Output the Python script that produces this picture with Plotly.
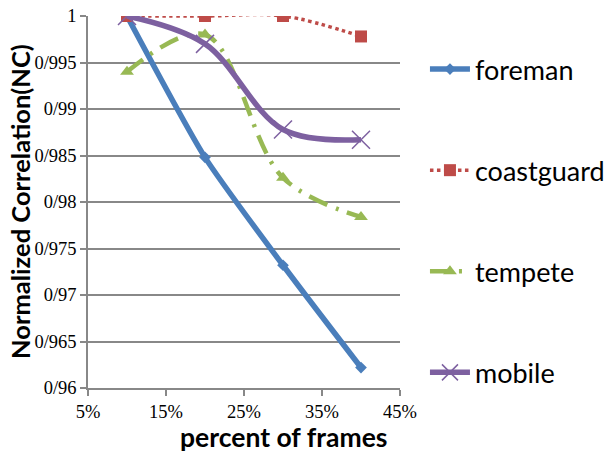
import plotly.graph_objects as go

x_pct = [10, 20, 30, 40]
foreman = [1.0, 0.9848, 0.9732, 0.9622]
coastguard = [1.0, 1.0, 1.0, 0.9978]
tempete = [0.994, 0.998, 0.9826, 0.9784]
mobile = [1.0, 0.997, 0.9878, 0.9867]

y_tickvals = [0.96, 0.965, 0.97, 0.975, 0.98, 0.985, 0.99, 0.995, 1.0]
y_ticktext = ["0/96", "0/965", "0/97", "0/975", "0/98", "0/985", "0/99", "0/995", "1"]
x_tickvals = [5, 15, 25, 35, 45]
x_ticktext = ["5%", "15%", "25%", "35%", "45%"]

sans = "Lato, Open Sans, sans-serif"
serif = "Liberation Serif, Times New Roman, serif"

fig = go.Figure()
fig.add_trace(go.Scatter(x=x_pct, y=foreman, name="foreman", legendgroup="a",
                         mode="lines+markers", line=dict(color="#4a7ebb", width=5.5, shape="spline", smoothing=0.6),
                         marker=dict(symbol="diamond", size=9, color="#4a7ebb")))
fig.add_trace(go.Scatter(x=x_pct, y=coastguard, name="coastguard", legendgroup="b",
                         mode="lines+markers", line=dict(color="#be4b48", width=3.5, dash="dot", shape="spline"),
                         marker=dict(symbol="square", size=12, color="#be4b48")))
fig.add_trace(go.Scatter(x=x_pct, y=tempete, name="tempete", legendgroup="c",
                         mode="lines+markers", line=dict(color="#98b954", width=4.5, dash="20px,9px,3px,9px", shape="spline"),
                         marker=dict(symbol="triangle-up", size=12, color="#98b954")))
fig.add_trace(go.Scatter(x=x_pct, y=mobile, name="mobile", legendgroup="d",
                         mode="lines+markers", line=dict(color="#7d60a0", width=5.5, shape="spline"),
                         marker=dict(symbol="x-thin-open", size=18, line=dict(color="#7d60a0", width=1.5))))

fig.update_layout(
    width=606, height=453,
    margin=dict(l=88, r=206, t=16, b=65, autoexpand=False),
    paper_bgcolor="white", plot_bgcolor="white",
    showlegend=True,
    legend=dict(x=1.080, xanchor="left", y=0.922, yanchor="top", yref="paper",
                font=dict(family=sans, size=27, color="black"),
                tracegroupgap=63, itemwidth=40, bgcolor="rgba(0,0,0,0)"),
    xaxis=dict(range=[5, 45], tickvals=x_tickvals, ticktext=x_ticktext, automargin=False,
               showgrid=False, showline=True, linecolor="#888888", linewidth=1.5,
               ticks="outside", ticklen=6, tickcolor="#888888", tickwidth=1.5,
               tickfont=dict(family=serif, size=18.5, color="black"),
               zeroline=False),
    yaxis=dict(range=[0.96, 1.0], tickvals=y_tickvals, ticktext=y_ticktext, automargin=False,
               showgrid=True, gridcolor="#888888", gridwidth=1.5,
               showline=True, linecolor="#888888", linewidth=1.5,
               ticks="outside", ticklen=6, tickcolor="#888888", tickwidth=1.5,
               tickfont=dict(family=serif, size=18.5, color="black"),
               zeroline=False),
    annotations=[
        dict(text="<b>Normalized Correlation(NC)</b>", xref="paper", yref="paper",
             x=0, y=0.5, xanchor="center", yanchor="middle", xshift=-68, textangle=-90,
             showarrow=False, font=dict(family=sans, size=25.5, color="black")),
        dict(text="<b>percent of frames</b>", xref="paper", yref="paper",
             x=0.628, y=0, xanchor="center", yanchor="middle", yshift=-49,
             showarrow=False, font=dict(family=sans, size=26.5, color="black")),
    ],
)

fig.write_html("out.html", config={"displayModeBar": False},
               post_script="document.body.style.margin='0';")
